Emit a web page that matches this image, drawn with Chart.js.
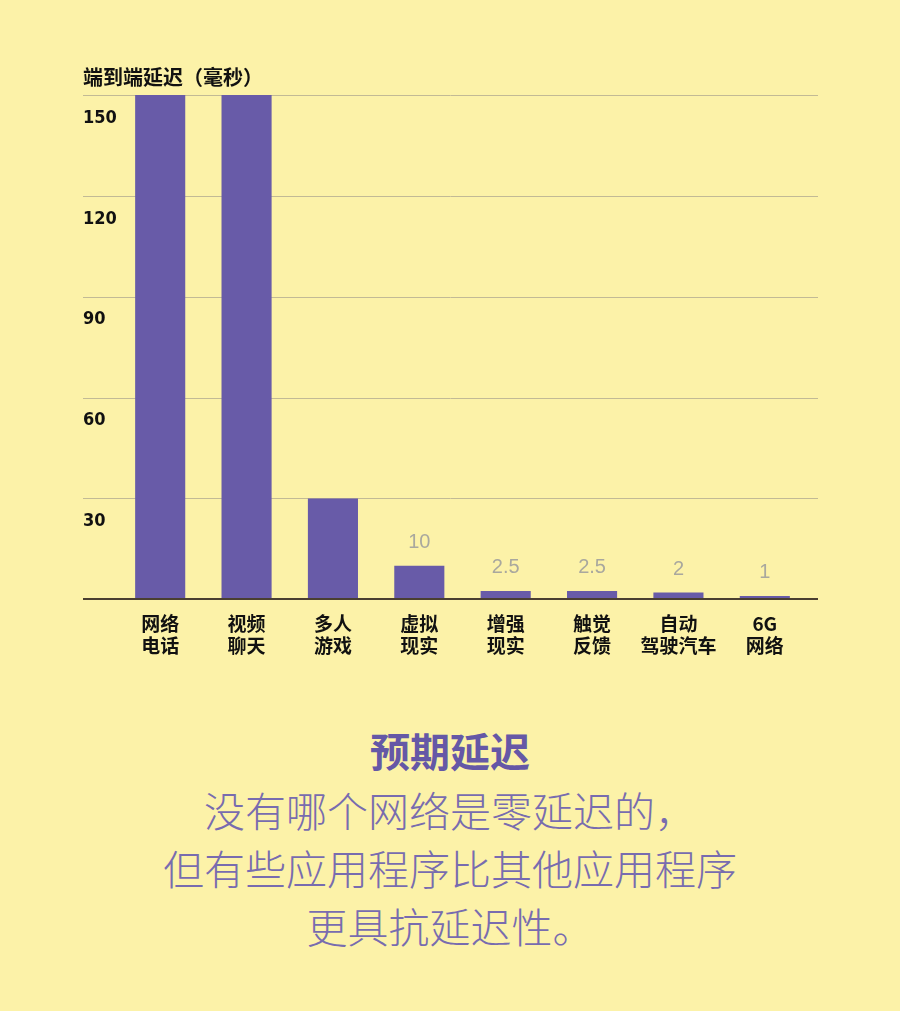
<!DOCTYPE html>
<html>
<head>
<meta charset="utf-8">
<script src="https://cdn.jsdelivr.net/npm/chart.js@4.4.1/dist/chart.umd.min.js"></script>
<style>
    body {
        margin: 0;
        background: #fcf2a8;
        width: 900px;
        height: 1011px;
        overflow: hidden;
    }
    #chart_box {
        position: relative;
        width: 900px;
        height: 690px;
    }
    #caption {
        text-align: center;
        font-family: 'Noto Sans CJK SC', sans-serif;
        margin-top: 31px;
    }
    #caption .head {
        font-size: 40px;
        font-weight: bold;
        color: #6558a6;
        line-height: 58px;
    }
    #caption .line {
        font-size: 41px;
        font-weight: 300;
        color: #786caf;
        line-height: 58px;
    }
    #caption .line.first {
        margin-top: 1px;
    }
</style>
</head>
<body>
<div id="chart_box"><canvas id="latency_chart"></canvas></div>
<div id="caption">
    <div class="head">预期延迟</div>
    <div class="line first">没有哪个网络是零延迟的，</div>
    <div class="line">但有些应用程序比其他应用程序</div>
    <div class="line">更具抗延迟性。</div>
</div>
<script>
//Данные
var categories = [
    ['网络', '电话'],
    ['视频', '聊天'],
    ['多人', '游戏'],
    ['虚拟', '现实'],
    ['增强', '现实'],
    ['触觉', '反馈'],
    ['自动', '驾驶汽车'],
    ['6G', '网络']
];
var latency_ms = [150, 150, 30, 10, 2.5, 2.5, 2, 1];
var value_labels = ['', '', '', '10', '2.5', '2.5', '2', '1'];
var y_ticks = [30, 60, 90, 120, 150];

var bar_color = '#685ba8';
var grid_color = '#c2ba95';
var cjk_font = "'Noto Sans CJK SC', sans-serif";
var num_font = "'Liberation Sans Narrow', 'DejaVu Sans Condensed', sans-serif";

/* --------------------- Сетка, ось и подписи значений --------------------- */

var extras = {
    id: 'extras',
    beforeDatasetsDraw: function (chart) {
        var ctx = chart.ctx;
        var area = chart.chartArea;
        var y = chart.scales.y;
        ctx.save();
        ctx.lineWidth = 1;
        ctx.strokeStyle = grid_color;
        y_ticks.forEach(function (v) {
            var py = Math.round(y.getPixelForValue(v)) + 0.5;
            ctx.beginPath();
            ctx.moveTo(area.left - 34, py);
            ctx.lineTo(area.right + 10, py);
            ctx.stroke();
        });
        ctx.restore();
    },
    afterDatasetsDraw: function (chart) {
        var ctx = chart.ctx;
        var area = chart.chartArea;
        var y = chart.scales.y;
        var meta = chart.getDatasetMeta(0);
        ctx.save();
        // базовая линия
        ctx.lineWidth = 2;
        ctx.strokeStyle = '#4a3f30';
        var py = Math.round(y.getPixelForValue(0));
        ctx.beginPath();
        ctx.moveTo(area.left - 34, py);
        ctx.lineTo(area.right + 10, py);
        ctx.stroke();
        // подписи над столбцами
        ctx.fillStyle = '#a9a89e';
        ctx.font = "20px 'Liberation Sans', sans-serif";
        ctx.textAlign = 'center';
        ctx.textBaseline = 'bottom';
        meta.data.forEach(function (bar, i) {
            if (value_labels[i] != '') {
                ctx.fillText(value_labels[i], bar.x, bar.y - 13);
            }
        });
        ctx.restore();
    }
};

var ctx = document.getElementById('latency_chart').getContext('2d');
var chart = new Chart(ctx, {
    type: 'bar',
    data: {
        labels: categories,
        datasets: [{
            data: latency_ms,
            backgroundColor: bar_color,
            borderWidth: 0,
            categoryPercentage: 1,
            barPercentage: 0.58
        }]
    },
    options: {
        responsive: true,
        maintainAspectRatio: false,
        animation: false,
        layout: {
            padding: { left: 83, right: 92, top: 0, bottom: 27 }
        },
        plugins: {
            legend: { display: false },
            tooltip: { enabled: false },
            title: {
                display: true,
                text: '端到端延迟（毫秒）',
                align: 'start',
                color: '#111111',
                font: { family: cjk_font, size: 20, weight: 'bold' },
                padding: { top: 65, bottom: 6 }
            }
        },
        scales: {
            x: {
                grid: { display: false },
                border: { display: false },
                ticks: {
                    color: '#111111',
                    padding: 6,
                    font: { family: cjk_font, size: 19, weight: 'bold', lineHeight: 1.15 }
                }
            },
            y: {
                min: 0,
                max: 150,
                grid: { display: false },
                border: { display: false },
                afterFit: function (scale) {
                    scale.width = 34;
                },
                ticks: {
                    stepSize: 30,
                    crossAlign: 'far',
                    labelOffset: 23,
                    color: '#111111',
                    font: { family: num_font, size: 18, weight: 'bold' },
                    callback: function (v) {
                        return y_ticks.indexOf(v) != -1 ? String(v) : '';
                    }
                }
            }
        }
    },
    plugins: [extras]
});
</script>
</body>
</html>
